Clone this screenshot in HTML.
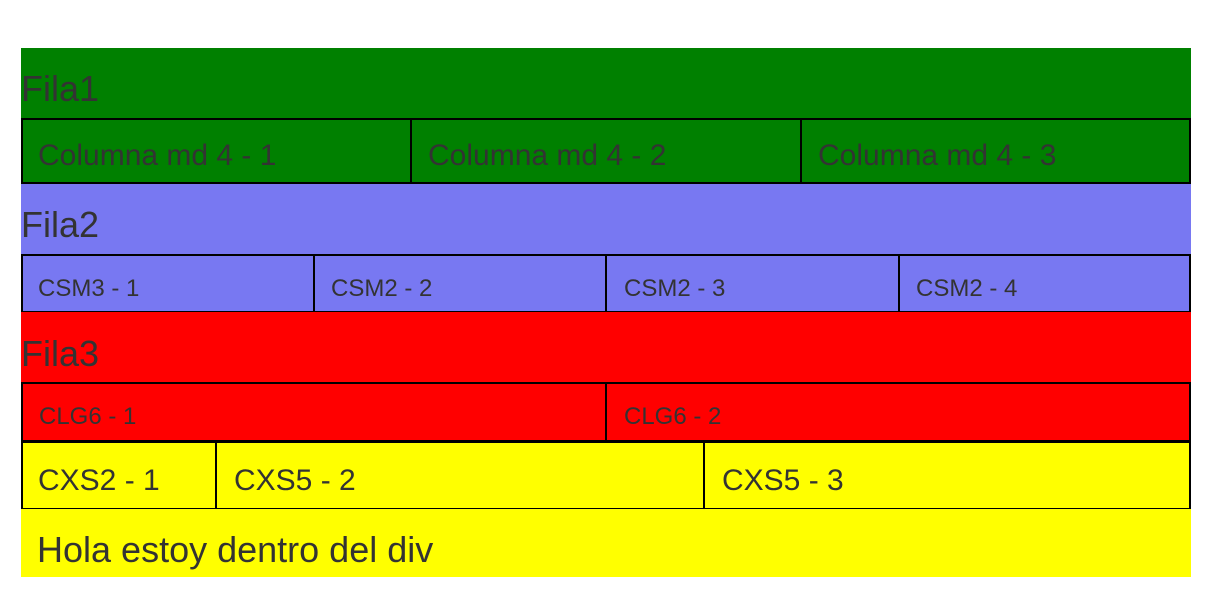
<!DOCTYPE html>
<html><head><meta charset="utf-8"><style>
body{margin:0;width:1231px;height:599px;background:#fff;position:relative;overflow:hidden;font-family:"Liberation Sans",Arial,sans-serif;color:#333}
div{position:absolute;box-sizing:border-box}
.c{border:2px solid #000;}
.t{position:absolute;white-space:nowrap;line-height:1.15}
</style></head><body>
<div style="left:21px;top:48px;width:1170px;height:70px;background:#008000"><span class="t" style="left:0;top:20px;font-size:36px">Fila1</span></div>
<div class="c" style="left:21px;top:118px;width:391px;height:66px;background:#008000"><span class="t" style="left:15px;top:19px;font-size:30px">Columna md 4 - 1</span></div>
<div class="c" style="left:410px;top:118px;width:392px;height:66px;background:#008000"><span class="t" style="left:16px;top:19px;font-size:30px">Columna md 4 - 2</span></div>
<div class="c" style="left:800px;top:118px;width:391px;height:66px;background:#008000"><span class="t" style="left:16px;top:19px;font-size:30px">Columna md 4 - 3</span></div>

<div style="left:21px;top:184px;width:1170px;height:70px;background:#7878f2"><span class="t" style="left:0;top:20px;font-size:36px">Fila2</span></div>
<div class="c" style="left:21px;top:254px;width:294px;height:59px;background:#7878f2"><span class="t" style="left:15px;top:19px;font-size:24px">CSM3 - 1</span></div>
<div class="c" style="left:313px;top:254px;width:294px;height:59px;background:#7878f2"><span class="t" style="left:16px;top:19px;font-size:24px">CSM2 - 2</span></div>
<div class="c" style="left:605px;top:254px;width:295px;height:59px;background:#7878f2"><span class="t" style="left:17px;top:19px;font-size:24px">CSM2 - 3</span></div>
<div class="c" style="left:898px;top:254px;width:293px;height:59px;background:#7878f2"><span class="t" style="left:16px;top:19px;font-size:24px">CSM2 - 4</span></div>

<div style="left:21px;top:312px;width:1170px;height:71px;background:#ff0000"><span class="t" style="left:0;top:21px;font-size:36px">Fila3</span></div>
<div class="c" style="left:21px;top:382px;width:587px;height:60px;background:#ff0000"><span class="t" style="left:16px;top:19px;font-size:24px">CLG6 - 1</span></div>
<div class="c" style="left:605px;top:382px;width:586px;height:60px;background:#ff0000"><span class="t" style="left:17px;top:19px;font-size:24px">CLG6 - 2</span></div>

<div class="c" style="left:21px;top:441px;width:197px;height:69px;background:#ffff00"><span class="t" style="left:15px;top:21px;font-size:30px">CXS2 - 1</span></div>
<div class="c" style="left:215px;top:441px;width:491px;height:69px;background:#ffff00"><span class="t" style="left:17px;top:21px;font-size:30px">CXS5 - 2</span></div>
<div class="c" style="left:703px;top:441px;width:488px;height:69px;background:#ffff00"><span class="t" style="left:17px;top:21px;font-size:30px">CXS5 - 3</span></div>

<div style="left:21px;top:509px;width:1170px;height:68px;background:#ffff00"><span class="t" style="left:16px;top:20px;font-size:36px">Hola estoy dentro del div</span></div>
</body></html>
